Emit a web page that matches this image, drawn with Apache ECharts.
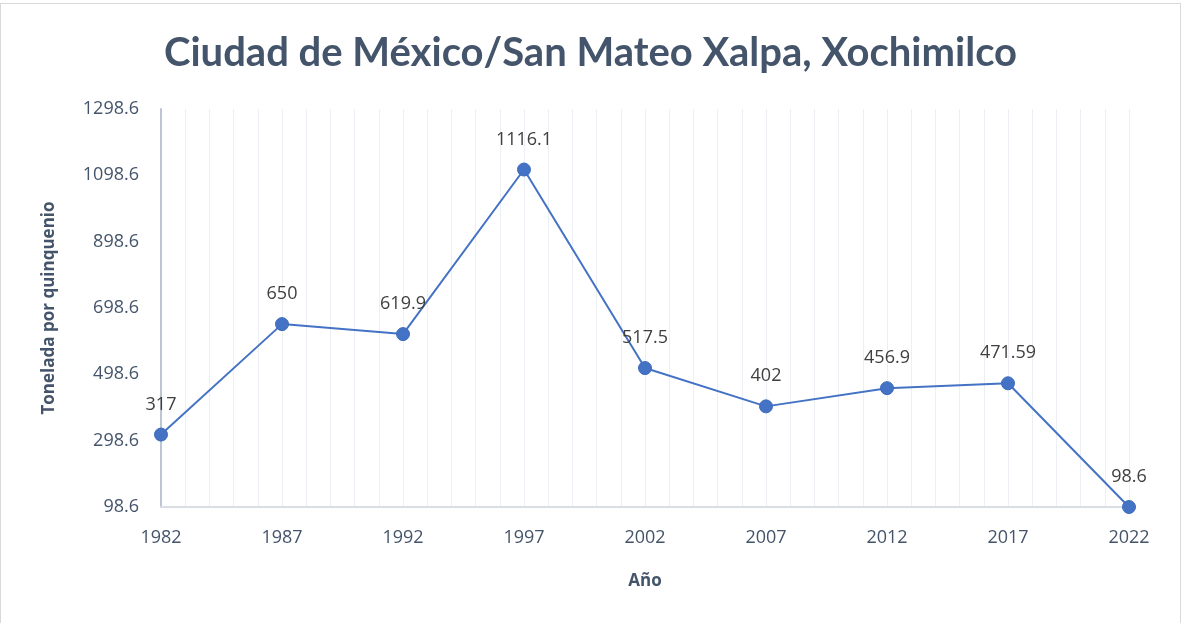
<!DOCTYPE html>
<html>
<head>
<meta charset="utf-8">
<script src="https://cdn.jsdelivr.net/npm/echarts@6/dist/echarts.min.js"></script>
<style>
  html, body { margin: 0; padding: 0; background: #fff; }
  #chart { width: 1179px; height: 619px; border: 1px solid #d9d9d9; margin-top: 3px; }
</style>
</head>
<body>
<div id="chart"></div>
<script>
var years = [1982, 1987, 1992, 1997, 2002, 2007, 2012, 2017, 2022];
var values = [317, 650, 619.9, 1116.1, 517.5, 402, 456.9, 471.59, 98.6];
var yTicks = [98.6, 298.6, 498.6, 698.6, 898.6, 1098.6, 1298.6];

var chart = echarts.init(document.getElementById("chart"));
var textColor = "#44546a";
chart.setOption({
  animation: false,
  title: {
    text: "Ciudad de México/San Mateo Xalpa, Xochimilco",
    left: "center",
    top: 24,
    textStyle: { fontFamily: "Lato", fontSize: 40, fontWeight: "bold", color: textColor }
  },
  grid: { left: 160, right: 51, top: 105, bottom: 116 },
  xAxis: {
    type: "value",
    min: years[0],
    max: years[years.length - 1],
    interval: 5,
    name: "Año",
    nameLocation: "middle",
    nameGap: 66,
    nameTextStyle: { fontFamily: "Open Sans", fontSize: 17, fontWeight: "bold", color: textColor },
    axisLine: { show: true, lineStyle: { color: "#d9dde4", width: 2 } },
    axisTick: { show: false },
    axisLabel: {
      fontFamily: "Open Sans", fontSize: 18, color: textColor, margin: 22,
      formatter: function (v) { return String(v); }
    },
    splitLine: { show: true, lineStyle: { color: "#eceff3" } },
    minorTick: { show: false, splitNumber: 5 },
    minorSplitLine: { show: true, lineStyle: { color: "#eceff3" } }
  },
  yAxis: {
    type: "value",
    min: yTicks[0],
    max: yTicks[yTicks.length - 1],
    interval: 200,
    name: "Tonelada por quinquenio",
    nameLocation: "middle",
    nameGap: 103,
    nameTextStyle: { fontFamily: "Open Sans", fontSize: 17, fontWeight: "bold", color: textColor },
    axisLine: { show: true, lineStyle: { color: "#bcc5d3", width: 2 } },
    axisTick: { show: false },
    axisLabel: {
      fontFamily: "Open Sans", fontSize: 18, color: textColor, margin: 22,
      formatter: function (v) { return v.toFixed(1); }
    },
    splitLine: { show: false }
  },
  series: [{
    type: "line",
    data: years.map(function (y, i) { return [y, values[i]]; }),
    symbol: "circle",
    symbolSize: 13,
    lineStyle: { color: "#4472c4", width: 2 },
    itemStyle: { color: "#4472c4", borderColor: "#3f6bbd", borderWidth: 1 },
    label: {
      show: true,
      position: "top",
      distance: 14,
      fontFamily: "Open Sans",
      fontSize: 18,
      color: "#404040",
      formatter: function (p) { return String(p.value[1]); }
    }
  }]
});
</script>
</body>
</html>
